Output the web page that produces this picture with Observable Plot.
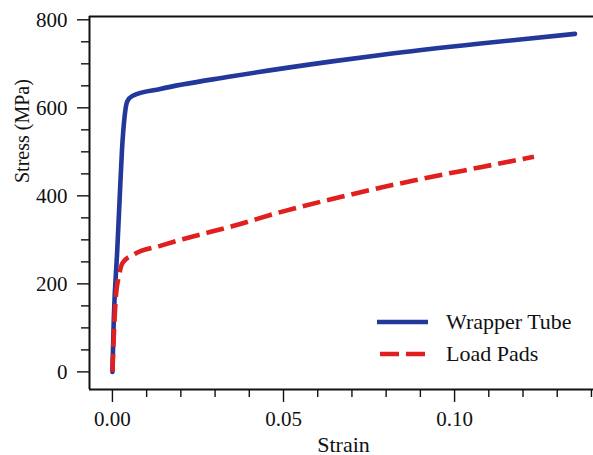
<!DOCTYPE html>
<html>
<head>
<meta charset="utf-8">
<script src="https://cdn.jsdelivr.net/npm/d3@7"></script>
<script src="https://cdn.jsdelivr.net/npm/@observablehq/plot@0.6"></script>
<style>
  html, body { margin: 0; padding: 0; background: #fff; }
  #wrap { position: relative; width: 593px; height: 455px; font-family: "Liberation Serif", "Times New Roman", serif; }
  #legend { position: absolute; left: 377px; top: 306px; font-size: 22px; color: #111; }
  #legend .row { display: flex; align-items: center; height: 32px; }
  #legend svg { width: 54px; height: 10px; margin-right: 15px; }
</style>
</head>
<body>
<div id="wrap"></div>
<script>
// Series names
const seriesNames = ["Wrapper Tube", "Load Pads"];
const seriesColors = ["#22389b", "#e21f1f"];

// Wrapper Tube (strain, stress MPa)
const wrapperStrain = [0, 0.0004, 0.0014, 0.0021, 0.0028, 0.0036, 0.0043, 0.0058, 0.014, 0.0345, 0.0637, 0.0784, 0.1076, 0.1352];
const wrapperStress = [0, 120, 275, 392, 505, 583, 614, 627, 643, 671, 705, 720, 746, 768];

// Load Pads (strain, stress MPa)
const padsStrain = [0, 0.0009, 0.002, 0.003, 0.0065, 0.0142, 0.0208, 0.0355, 0.0491, 0.0686, 0.0881, 0.1076, 0.1232];
const padsStress = [0, 160, 222, 248, 268, 287, 302, 332, 363, 401, 435, 465, 489];

// Axes
const xDomain = [-0.0067, 0.1406];
const yDomain = [-40, 807.5];
const xMajor = [0, 0.05, 0.10];
const xMinor = [0.01, 0.02, 0.03, 0.04, 0.06, 0.07, 0.08, 0.09, 0.11, 0.12, 0.13, 0.14];
const yMajor = [0, 200, 400, 600, 800];
const yMinor = [50, 100, 150, 250, 300, 350, 450, 500, 550, 650, 700, 750];

const wrapper = wrapperStrain.map((s, i) => ({s, v: wrapperStress[i]}));
const pads = padsStrain.map((s, i) => ({s, v: padsStress[i]}));

const chart = Plot.plot({
  width: 593,
  height: 455,
  marginLeft: 89,
  marginRight: 0,
  marginTop: 16,
  marginBottom: 66,
  style: {fontFamily: "'Liberation Serif', 'Times New Roman', serif", fontSize: "21px", background: "white", color: "#111"},
  x: {domain: xDomain},
  y: {domain: yDomain},
  marks: [
    Plot.axisX({ticks: xMinor, tickSize: 8, tickFormat: () => "", label: null, strokeWidth: 1.4}),
    Plot.axisX({ticks: xMajor, tickSize: 13, tickPadding: 9, tickFormat: d3.format(".2f"), label: null, strokeWidth: 1.4, fontSize: 21}),
    Plot.axisY({ticks: yMinor, tickSize: 8, tickFormat: () => "", label: null, strokeWidth: 1.4}),
    Plot.axisY({ticks: yMajor, tickSize: 12, tickPadding: 10, tickFormat: d => String(d), label: null, strokeWidth: 1.4, fontSize: 21}),
    Plot.ruleX([xDomain[0]], {stroke: "#111", strokeWidth: 2}),
    Plot.ruleY([yDomain[0], yDomain[1]], {stroke: "#111", strokeWidth: 2}),
    Plot.line(wrapper, {x: "s", y: "v", stroke: seriesColors[0], strokeWidth: 4.6, curve: "monotone-x", strokeLinecap: "round"}),
    Plot.line(pads, {x: "s", y: "v", stroke: seriesColors[1], strokeWidth: 4.6, curve: "monotone-x", strokeDasharray: "18,7", strokeLinecap: "butt"}),
    Plot.text(["Strain"], {frameAnchor: "bottom", dy: 62, dx: 2, lineAnchor: "bottom", fontSize: 22}),
    Plot.text(["Stress (MPa)"], {frameAnchor: "left", dx: -67, dy: -20, rotate: -90, fontSize: 20})
  ]
});
document.getElementById("wrap").appendChild(chart);

// Legend overlay
const legend = document.createElement("div");
legend.id = "legend";
seriesNames.forEach((name, i) => {
  const row = document.createElement("div");
  row.className = "row";
  const dash = i === 1 ? ' stroke-dasharray="19,7"' : '';
  const x1 = i === 1 ? 3 : 0;
  const x2 = i === 1 ? 49 : 51;
  row.innerHTML = `<svg viewBox="0 0 54 10"><line x1="${x1}" y1="5" x2="${x2}" y2="5" stroke="${seriesColors[i]}" stroke-width="4.6"${dash}/></svg><span>${name}</span>`;
  legend.appendChild(row);
});
document.getElementById("wrap").appendChild(legend);
</script>
</body>
</html>
